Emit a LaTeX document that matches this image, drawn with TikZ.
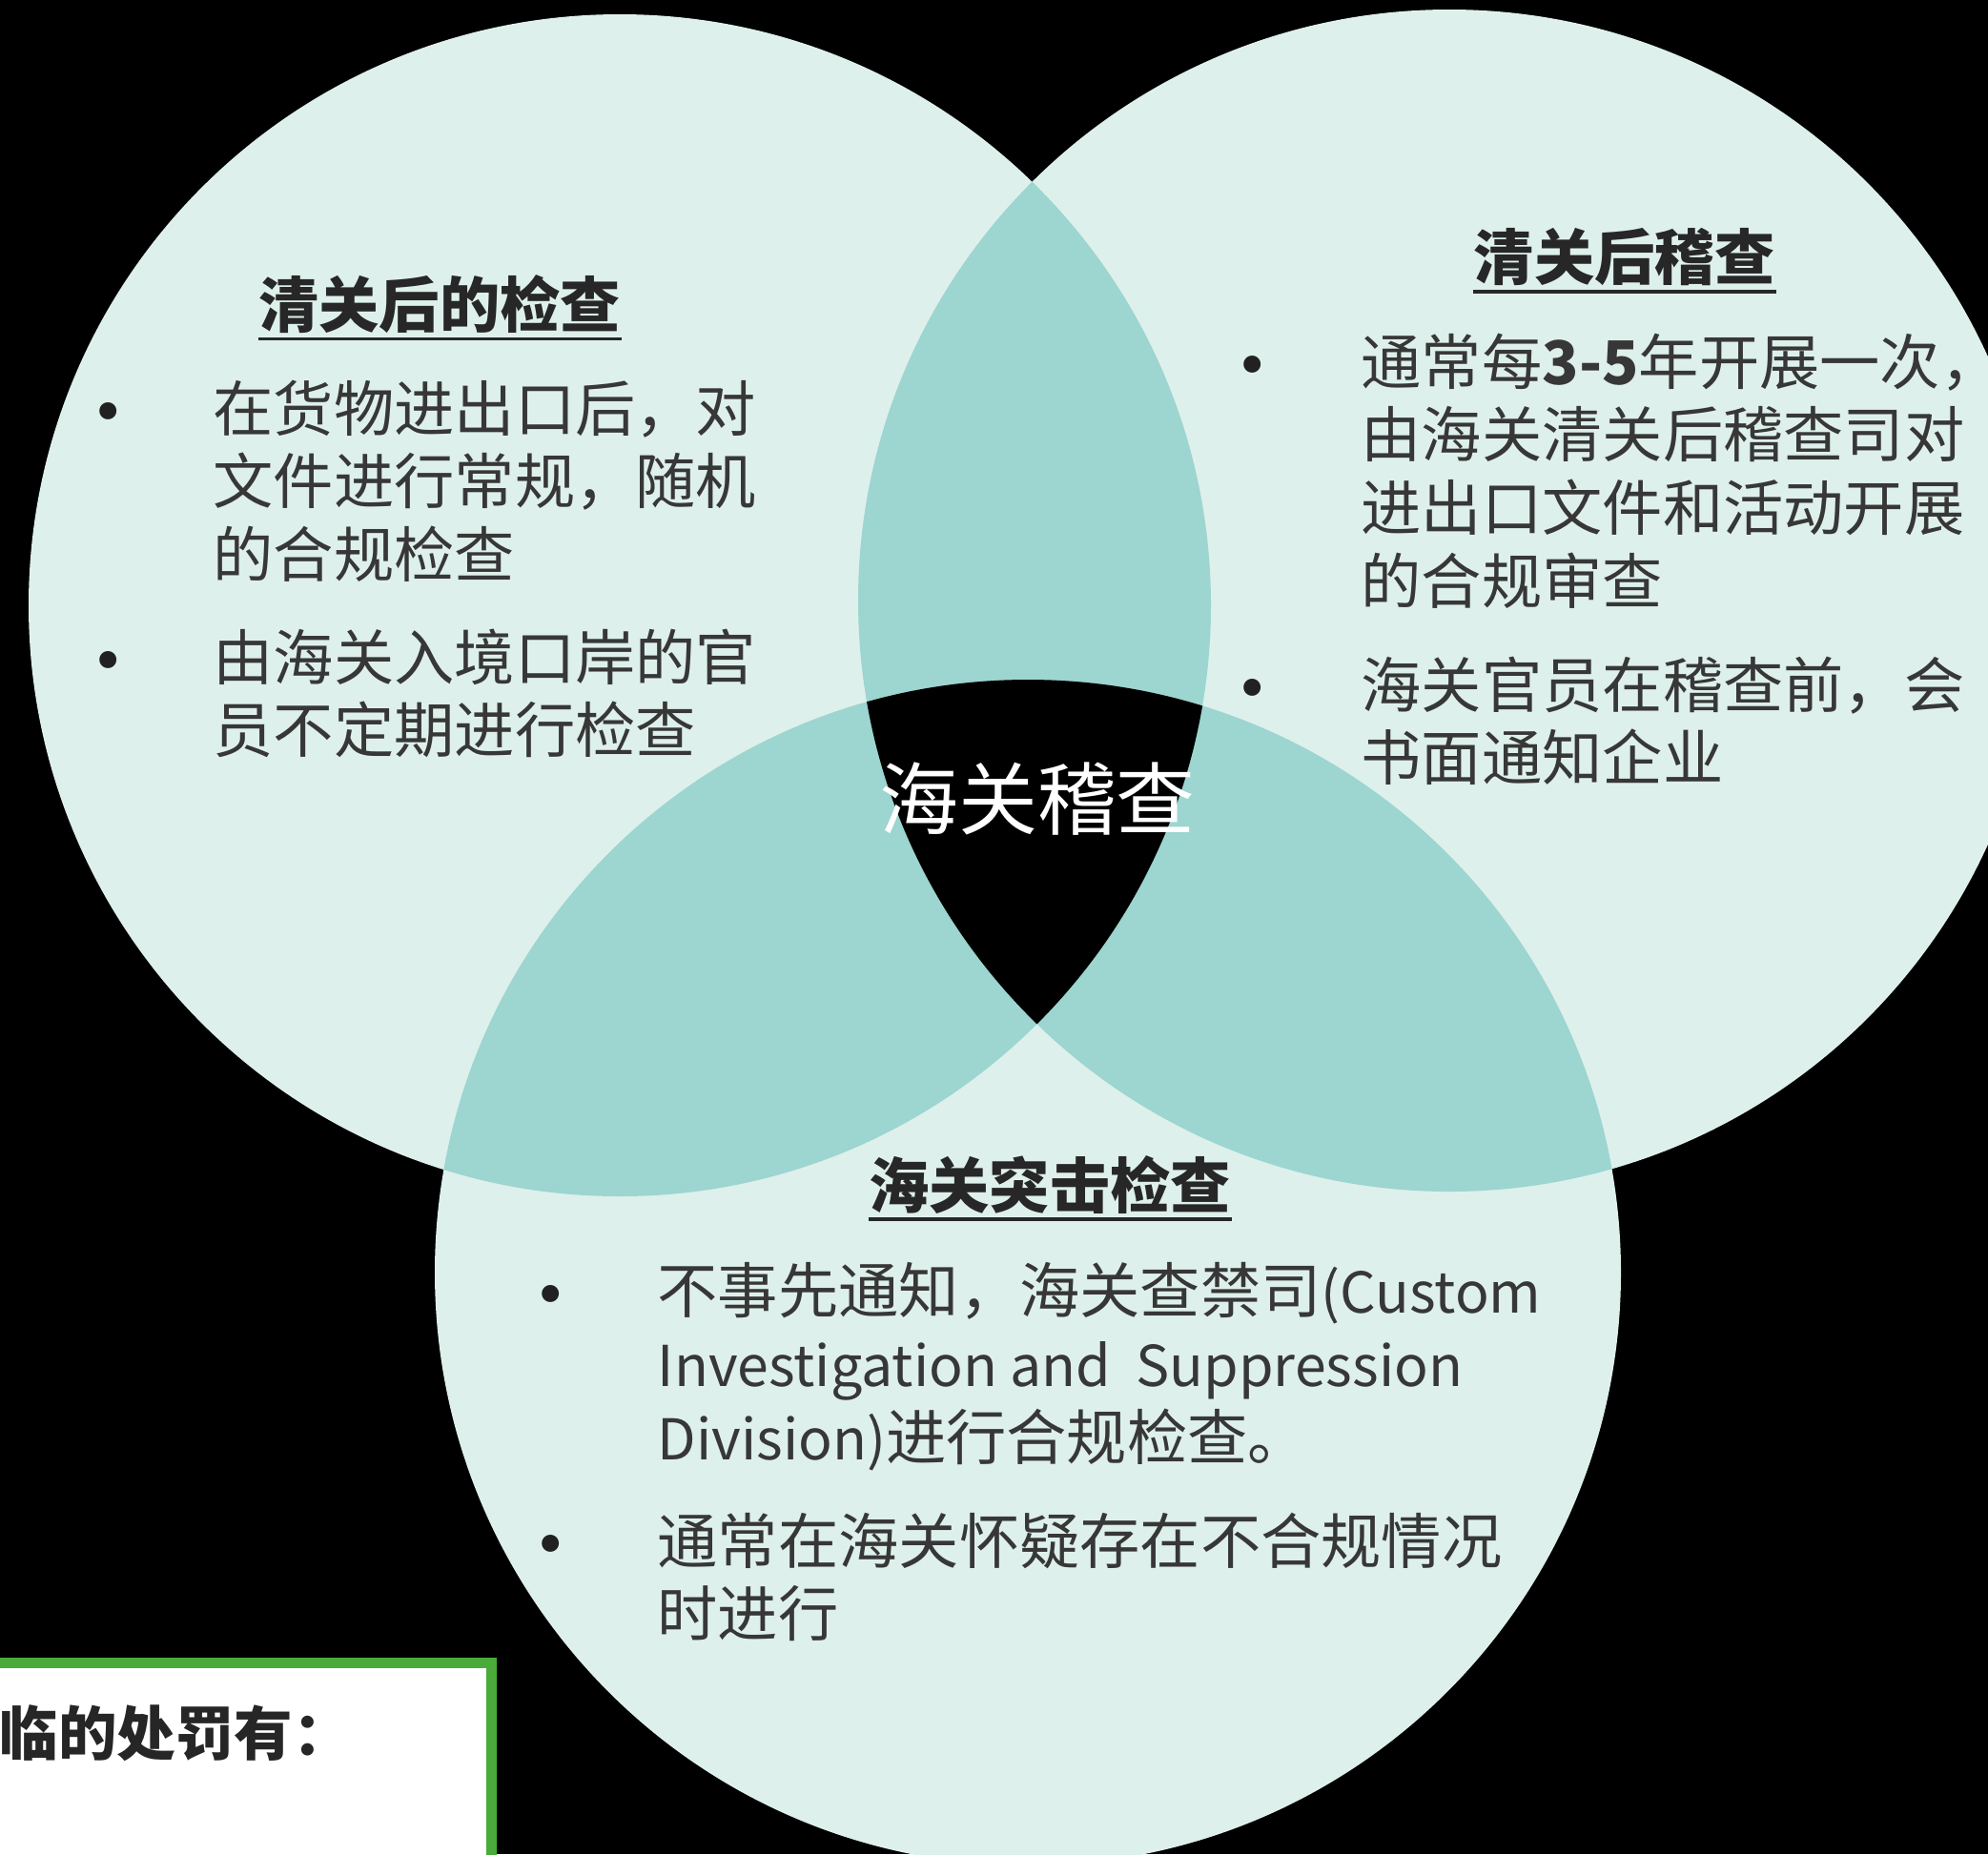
\documentclass[tikz,border=0pt]{standalone}
\usepackage{fontspec}
\setmainfont{Noto Sans CJK SC}
\usetikzlibrary{positioning}
\definecolor{mint}{RGB}{222,240,235}
\definecolor{lens}{RGB}{157,213,208}
\definecolor{ink}{RGB}{55,55,55}
\definecolor{boxgreen}{RGB}{74,170,58}
\newcommand\latin[1]{{\fontsize{16.8}{21.8}\selectfont #1}}

\begin{document}
\begin{tikzpicture}[
    body/.style={anchor=north west, align=left, inner sep=0pt, text=ink, font=\fontsize{18}{21.8}\selectfont},
    head/.style={inner sep=0pt, text=ink!70!black, font=\bfseries\fontsize{18}{21.8}\selectfont},
    dot/.style={inner sep=0pt, yshift=-0.15cm, text=ink!60!black, font=\fontsize{24}{26}\selectfont},
    uline/.style={line width=0.035cm, ink!70!black}
]
    \useasboundingbox (0,0) rectangle (20.85,-19.45);
    \clip (0,0) rectangle (20.85,-19.45);
    \fill[black] (0,0) rectangle (20.85,-19.45);

    % Three circles
    \coordinate (cL) at (6.50,-6.35);
    \coordinate (cR) at (15.20,-6.30);
    \coordinate (cB) at (10.78,-13.35);
    \fill[mint] (cL) circle (6.2);
    \fill[mint] (cR) circle (6.2);
    \fill[mint] (cB) circle (6.22);

    % Pairwise overlaps
    \begin{scope}
        \clip (cL) circle (6.2);
        \fill[lens] (cR) circle (6.2);
        \fill[lens] (cB) circle (6.22);
    \end{scope}
    \begin{scope}
        \clip (cR) circle (6.2);
        \fill[lens] (cB) circle (6.22);
    \end{scope}

    % Centre of all three
    \begin{scope}
        \clip (cL) circle (6.2);
        \clip (cR) circle (6.2);
        \fill[black] (cB) circle (6.22);
    \end{scope}
    \node[white, inner sep=0pt, font=\fontsize{23.6}{28}\selectfont] (centre) at (10.88,-8.38) {海关稽查};

    % Left circle
    \node[head] (lhead) at (4.61,-3.19) {清关后的检查};
    \draw[uline] ([yshift=-0.05cm]lhead.south west) -- ([yshift=-0.05cm]lhead.south east);
    \node[dot] (ldot1) at (1.14,-4.28) {•};
    \node[body] (ltext1) at (2.23,-3.98) {在货物进出口后，对\\文件进行常规，随机\\的合规检查};
    \node[dot] (ldot2) at (1.14,-6.89) {•};
    \node[body] (ltext2) at (2.23,-6.59) {由海关入境口岸的官\\员不定期进行检查};

    % Right circle
    \node[head] (rhead) at (17.04,-2.70) {清关后稽查};
    \draw[uline] ([yshift=-0.05cm]rhead.south west) -- ([yshift=-0.05cm]rhead.south east);
    \node[dot] (rdot1) at (13.14,-3.79) {•};
    \node[body] (rtext1) at (14.27,-3.49) {通常每\textbf{3-5}年开展一次，\\由海关清关后稽查司对\\进出口文件和活动开展\\的合规审查};
    \node[dot] (rdot2) at (13.14,-7.18) {•};
    \node[body] (rtext2) at (14.27,-6.88) {海关官员在稽查前，会\\书面通知企业};

    % Bottom circle
    \node[head] (bhead) at (11.01,-12.43) {海关突击检查};
    \draw[uline] ([yshift=-0.05cm]bhead.south west) -- ([yshift=-0.05cm]bhead.south east);
    \node[dot] (bdot1) at (5.78,-13.54) {•};
    \node[body] (btext1) at (6.89,-13.24) {不事先通知，海关查禁司\latin{(Custom}\\\latin{Investigation and\ \ Suppression}\\\latin{Division)}进行合规检查。};
    \node[dot] (bdot2) at (5.78,-16.16) {•};
    \node[body] (btext2) at (6.89,-15.86) {通常在海关怀疑存在不合规情况\\时进行};

    % Box at the lower left
    \fill[white] (-0.5,-17.44) rectangle (5.155,-20);
    \draw[boxgreen, line width=0.11cm] (-0.5,-17.44) -- (5.155,-17.44) -- (5.155,-20);
    \node[anchor=west, inner sep=0pt, text=black!85, font=\bfseries\fontsize{17.5}{21}\selectfont] (penalty) at (-0.01,-18.18) {临的处罚有：};
\end{tikzpicture}
\end{document}
